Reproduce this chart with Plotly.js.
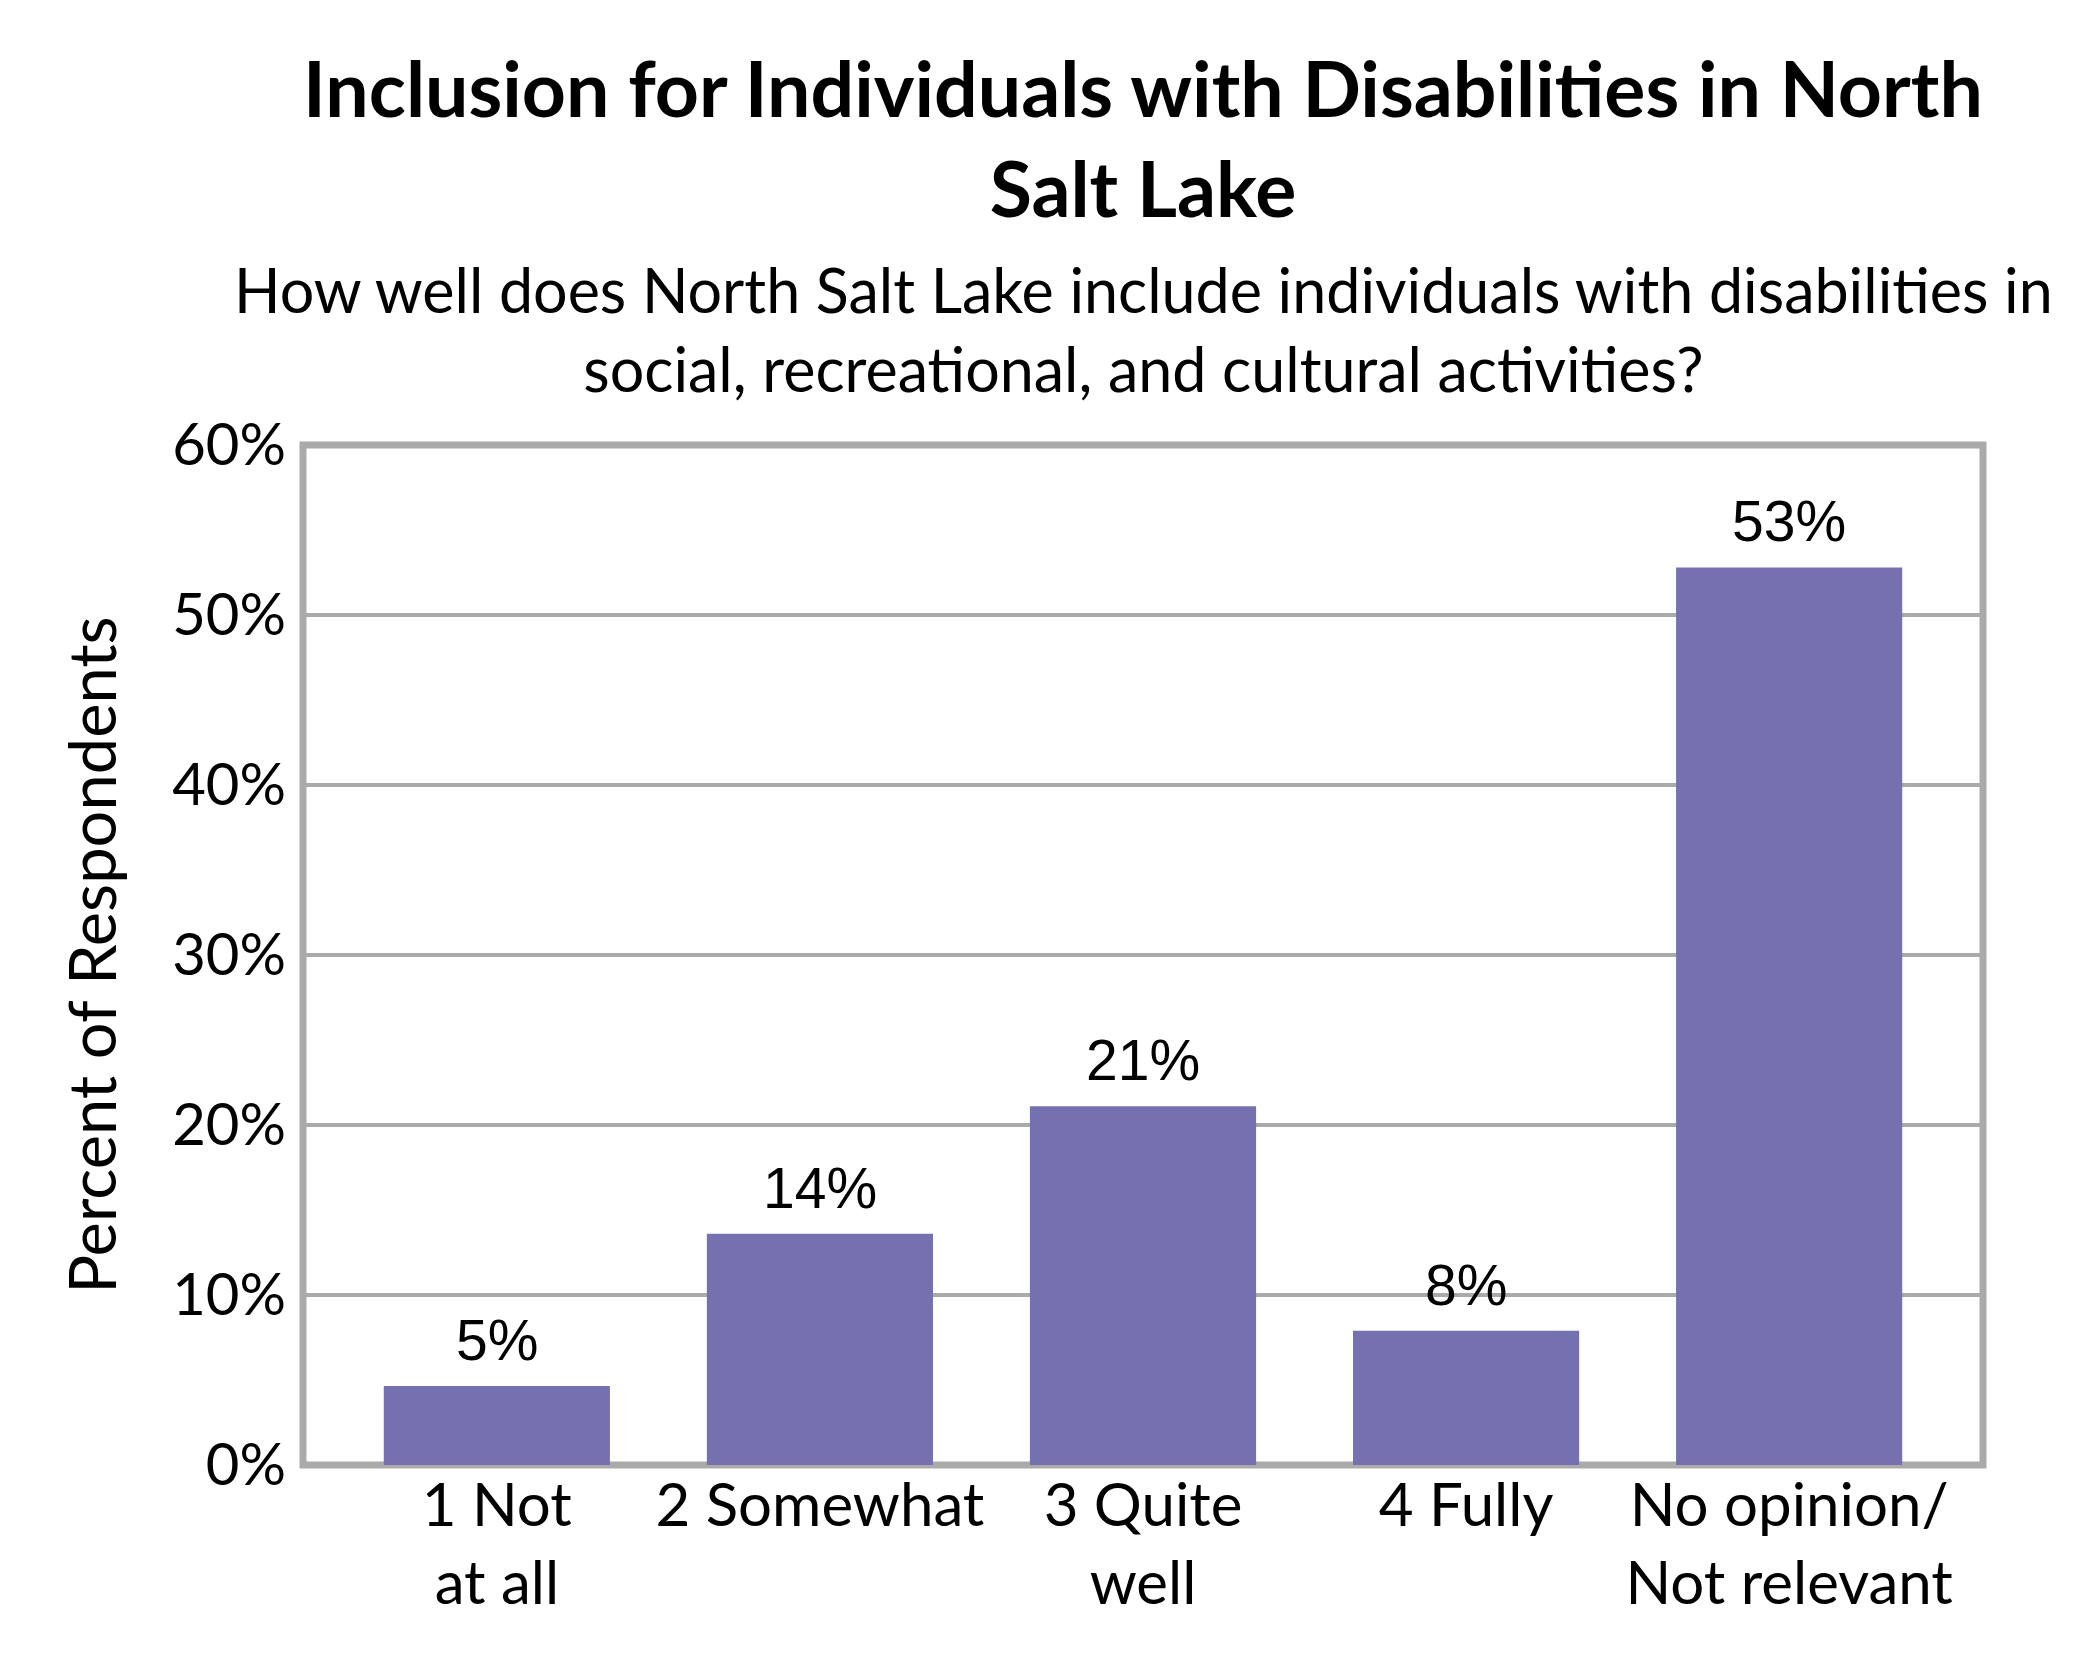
<!DOCTYPE html>
<html>
<head>
<meta charset="utf-8">
<script src="https://cdn.plot.ly/plotly-3.0.1.min.js"></script>
<style>
  html, body { margin: 0; padding: 0; background: #ffffff; }
  #chart { width: 2100px; height: 1680px; }
</style>
</head>
<body>
<div id="chart"></div>
<script>
// ---- data ----
const categories = ["1 Not<br>at all", "2 Somewhat", "3 Quite<br>well", "4 Fully", "No opinion/<br>Not relevant"];
const values = [4.65, 13.6, 21.1, 7.9, 52.8];
const valueLabels = ["5%", "14%", "21%", "8%", "53%"];
const yTickVals = [0, 10, 20, 30, 40, 50, 60];
const yTickText = ["0%", "10%", "20%", "30%", "40%", "50%", "60%"];
const chartTitle = "Inclusion for Individuals with Disabilities in North<br>Salt Lake";
const chartSubtitle = "How well does North Salt Lake include individuals with disabilities in<br>social, recreational, and cultural activities?";
const yTitle = "Percent of Respondents";

const barColor = "#7571B1";
const gridColor = "#AAAAAA";

const trace = {
  type: "bar",
  x: categories,
  y: values,
  marker: { color: barColor, line: { width: 0 } },
  hoverinfo: "none",
  showlegend: false
};

const labelAnnotations = categories.map((c, i) => ({
  x: c,
  y: values[i],
  xref: "x",
  yref: "y",
  text: valueLabels[i],
  showarrow: false,
  yanchor: "bottom",
  xanchor: "center",
  yshift: 12,
  font: { family: "Liberation Sans, Arial, sans-serif", size: 57, color: "#000000" }
}));

const layout = {
  width: 2100,
  height: 1680,
  paper_bgcolor: "#ffffff",
  plot_bgcolor: "#ffffff",
  margin: { l: 303, r: 117, t: 445, b: 215, pad: 0 },
  bargap: 0.3,
  title: {
    text: chartTitle,
    font: { family: "Lato, sans-serif", size: 77, color: "#000000", weight: 700 },
    xref: "paper",
    x: 0.5,
    xanchor: "center",
    yref: "container",
    y: 1 - 117 / 1680,
    yanchor: "top"
  },
  xaxis: {
    type: "category",
    range: [-0.6, 4.6],
    showgrid: false,
    zeroline: false,
    showline: false,
    ticks: "",
    ticklabelstandoff: 0,
    tickfont: { family: "Lato, sans-serif", size: 60, color: "#000000" },
    fixedrange: true,
    automargin: false
  },
  yaxis: {
    range: [0, 60],
    tickvals: yTickVals,
    ticktext: yTickText,
    showgrid: true,
    gridcolor: gridColor,
    gridwidth: 4,
    zeroline: false,
    showline: false,
    ticks: "",
    ticklabelstandoff: 16,
    tickfont: { family: "Lato, sans-serif", size: 58, color: "#000000" },
    title: {
      text: yTitle,
      font: { family: "Lato, sans-serif", size: 65, color: "#000000" },
      standoff: 34
    },
    fixedrange: true,
    automargin: false
  },
  shapes: [{
    type: "rect",
    xref: "paper", yref: "paper",
    x0: 0, x1: 1, y0: 0, y1: 1,
    line: { color: gridColor, width: 7 },
    fillcolor: "rgba(0,0,0,0)",
    layer: "below"
  }],
  annotations: [
    {
      text: chartSubtitle,
      xref: "paper", yref: "paper",
      x: 0.5, y: (1465 - 329) / 1020,
      xanchor: "center", yanchor: "middle",
      showarrow: false,
      font: { family: "Lato, sans-serif", size: 61, color: "#000000" }
    }
  ].concat(labelAnnotations)
};

Plotly.newPlot("chart", [trace], layout, { displayModeBar: false, staticPlot: true });
</script>
</body>
</html>
